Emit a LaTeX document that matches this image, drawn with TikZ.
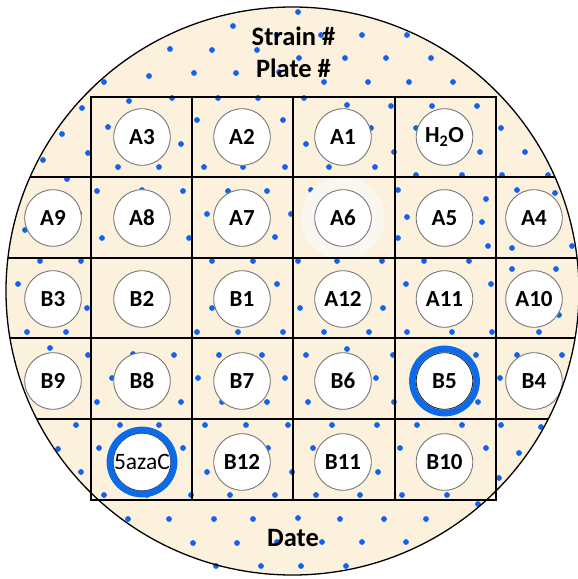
\documentclass[tikz,border=0pt]{standalone}
\usepackage{fontspec}
\setmainfont{Carlito}
\definecolor{beige}{HTML}{FCF1DC}
\definecolor{dotblue}{HTML}{1262EE}
\definecolor{ringblue}{HTML}{0E6BE8}
\definecolor{wellgray}{HTML}{767676}
\definecolor{halo}{HTML}{FAF7F0}
\begin{document}
\begin{tikzpicture}[x=1pt,y=-1pt,
  wellbox/.style={circle, draw=wellgray, line width=0.9pt, fill=white, minimum size=56.6pt, inner sep=0pt, font=\fontsize{23}{27}\selectfont\bfseries},
  markedwell/.style={wellbox, draw=black!85},
  titletext/.style={font=\fontsize{26.5}{30}\selectfont\bfseries, anchor=base, inner sep=0pt},
  gridline/.style={line width=1.3pt, black},
  spot/.style={fill=dotblue},
  ringline/.style={draw=ringblue, line width=6.6pt}]
\clip (0,0) rectangle (578,579);
\fill[beige] (292.5,291) ellipse [x radius=286.5pt, y radius=284pt];
% scattered dots
\foreach \p in {(298,12),(233,26),(277,35),(321,35),(362,35),(407,35),(170,49),(212,50),(257,50),
  (299,58),(345,58),(386,58),(431,58),(104,82),(149,76),(194,73),(236,73),(279,72),(324,82),(368,82),(409,82),(453,82),
  (82,108),(62,134),(88,153),(43,160),(129,101),(172,98),(218,98),(258,98),(304,98),(108,127),(181,144),(118,167),
  (159,167),(197,120),(204,167),(243,167),(283,120),(285,167),(347,105),(391,106),(306,144),(329,167),(375,167),
  (371,128),(432,106),(477,106),(416,128),(394,152),(480,152),(501,128),(525,152),
  (416,175),(462,175),(502,175),(548,175),
  (67,179),(97,191),(142,190),(183,191),(228,191),(267,191),(311,190),(398,190),(486,199),(517,190),(555,193),
  (79,213),(25,230),(207,214),(291,214),(407,217),(482,222),(102,238),(189,238),(275,237),(398,238),(488,246),(512,248),(572,246),
  (40,261),(81,261),(212,261),(253,261),(298,261),(337,261),(382,261),(424,261),(469,261),(512,269),(556,269),
  (18,284),(277,284),(406,284),(491,284),(87,308),(212,308),(300,308),(383,308),(559,315),
  (27,332),(66,332),(197,332),(238,332),(283,332),(324,332),(369,332),(407,332),(452,332),(492,332),(539,332),
  (50,348),(88,355),(133,354),(174,355),(219,355),(262,355),(306,355),(347,349),(393,355),(476,355),(517,355),(562,355),
  (112,378),(198,378),(285,378),(376,378),(500,378),(97,402),(181,402),(222,402),(267,402),(308,402),(394,402),(478,402),
  (76,425),(120,425),(159,425),(205,425),(246,425),(288,425),(332,425),(377,425),(417,425),(462,425),(501,425),(541,427),
  (58,449),(99,448),(183,448),(268,448),(313,448),(400,448),(486,448),(519,453),(81,472),(207,472),(292,472),(378,472),(499,478),
  (104,495),(147,495),(191,495),(230,495),(275,495),(316,495),(360,495),(402,495),(447,495),(478,504),
  (128,519),(169,519),(214,519),(253,519),(298,518),(340,519),(384,519),(426,519),
  (193,543),(237,543),(277,542),(322,542),(362,542),(406,542),(216,566),(261,566),(301,566),(346,566)}
  \fill[spot] \p circle (2.9pt);
% halo around A6 (under the grid lines)
\fill[halo] (343,218) circle (41.5pt);
% grid
\begin{scope}
  \clip (292.5,291) ellipse [x radius=286.5pt, y radius=284pt];
  \foreach \y in {177,258,338,419} \draw[gridline] (0,\y) -- (578,\y);
\end{scope}
\draw[gridline] (91,97) rectangle (496,500);
\foreach \x in {192,293,395} \draw[gridline] (\x,97) -- (\x,500);
% wells
\node[wellbox] (a3) at (142,137) {A3};
\node[wellbox] (a2) at (242,137) {A2};
\node[wellbox] (a1) at (343,137) {A1};
\node[wellbox] (h2o) at (444.5,137) {H\textsubscript{2}O};
\node[wellbox] (a9) at (53,218) {A9};
\node[wellbox] (a8) at (142,218) {A8};
\node[wellbox] (a7) at (242,218) {A7};
\node[wellbox] (a6) at (343,218) {A6};
\node[wellbox] (a5) at (444.5,218) {A5};
\node[wellbox] (a4) at (534,218) {A4};
\node[wellbox] (b3) at (53,299) {B3};
\node[wellbox] (b2) at (142,299) {B2};
\node[wellbox] (b1) at (242,299) {B1};
\node[wellbox] (a12) at (343,299) {A12};
\node[wellbox] (a11) at (444.5,299) {A11};
\node[wellbox] (a10) at (534,299) {A10};
\node[wellbox] (b9) at (53,381) {B9};
\node[wellbox] (b8) at (142,381) {B8};
\node[wellbox] (b7) at (242,381) {B7};
\node[wellbox] (b6) at (343,381) {B6};
\node[markedwell] (b5) at (444.5,381) {B5};
\node[wellbox] (b4) at (534,381) {B4};
\node[markedwell, font=\fontsize{23.5}{27}\selectfont] (aza) at (142,462) {5azaC};
\node[wellbox] (b12) at (242,462) {B12};
\node[wellbox] (b11) at (343,462) {B11};
\node[wellbox] (b10) at (444.5,462) {B10};
% blue rings
\draw[ringline] (b5.center) circle (32.1pt);
\draw[ringline] (aza.center) circle (32.1pt);
% outline
\draw[line width=1.3pt] (292.5,291) ellipse [x radius=286.5pt, y radius=284pt];
% titles
\node[titletext] (strain) at (293.5,45) {Strain \#};
\node[titletext] (plate) at (293.5,77) {Plate \#};
\node[titletext] (date) at (293,546) {Date};
\end{tikzpicture}
\end{document}
